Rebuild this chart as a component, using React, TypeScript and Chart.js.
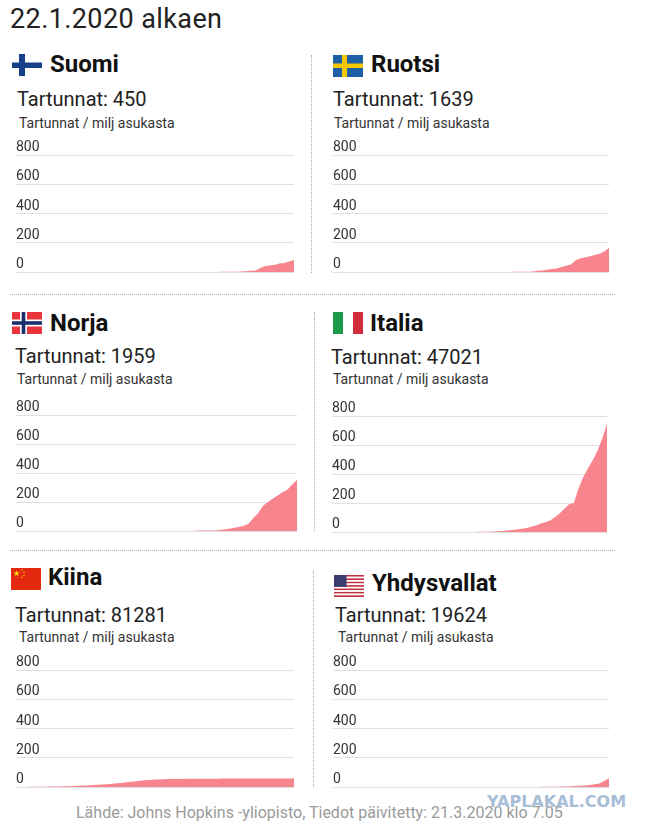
import { useEffect, useRef } from "react";
import Chart from "chart.js/auto";

// päivät 22.1. – 20.3.2020
const days = [
  "22.1", "23.1", "24.1", "25.1", "26.1", "27.1", "28.1", "29.1", "30.1", "31.1",
  "1.2", "2.2", "3.2", "4.2", "5.2", "6.2", "7.2", "8.2", "9.2", "10.2",
  "11.2", "12.2", "13.2", "14.2", "15.2", "16.2", "17.2", "18.2", "19.2", "20.2",
  "21.2", "22.2", "23.2", "24.2", "25.2", "26.2", "27.2", "28.2", "29.2",
  "1.3", "2.3", "3.3", "4.3", "5.3", "6.3", "7.3", "8.3", "9.3", "10.3",
  "11.3", "12.3", "13.3", "14.3", "15.3", "16.3", "17.3", "18.3", "19.3", "20.3",
];

const yTicks = [0, 200, 400, 600, 800];

const countries = ["Suomi", "Ruotsi", "Norja", "Italia", "Kiina", "Yhdysvallat"];
const totals = [450, 1639, 1959, 47021, 81281, 19624];

// tartunnat / milj asukasta
const suomi = [
  0, 0, 0, 0, 0, 0, 0, 0.2, 0.2, 0.2,
  0.2, 0.2, 0.2, 0.2, 0.2, 0.2, 0.2, 0.2, 0.2, 0.2,
  0.2, 0.2, 0.2, 0.2, 0.2, 0.2, 0.2, 0.2, 0.2, 0.2,
  0.2, 0.2, 0.2, 0.2, 0.2, 0.4, 0.4, 0.4, 0.4,
  0.5, 0.6, 0.7, 0.8, 1, 1.2, 1.5, 2, 3, 5,
  8, 10, 28, 41, 44, 50, 58, 61, 72, 82,
];
const ruotsi = [
  0, 0, 0, 0, 0, 0, 0, 0, 0, 0.1,
  0.1, 0.1, 0.1, 0.1, 0.1, 0.1, 0.1, 0.1, 0.1, 0.1,
  0.1, 0.1, 0.1, 0.1, 0.1, 0.1, 0.1, 0.1, 0.1, 0.1,
  0.1, 0.1, 0.1, 0.1, 0.1, 0.2, 0.7, 0.7, 1.2,
  1.4, 1.5, 2.1, 3.4, 9.2, 9.9, 15.7, 19.8, 24.2, 34.7,
  42, 52, 79.6, 94, 100, 108, 116, 125, 141, 166,
];
const norja = [
  0, 0, 0, 0, 0, 0, 0, 0, 0, 0,
  0, 0, 0, 0, 0, 0, 0, 0, 0, 0,
  0, 0, 0, 0, 0, 0, 0, 0, 0, 0,
  0, 0, 0, 0, 0, 0.2, 0.2, 1.1, 2.8,
  3.5, 3.8, 4, 7, 11, 15, 22, 28, 36, 50,
  90, 125, 175, 200, 222, 245, 268, 285, 320, 352,
];
const italia = [
  0, 0, 0, 0, 0, 0, 0, 0, 0, 0.1,
  0.1, 0.1, 0.1, 0.1, 0.1, 0.1, 0.1, 0.1, 0.1, 0.1,
  0.1, 0.1, 0.1, 0.1, 0.1, 0.1, 0.1, 0.1, 0.1, 0.1,
  0.3, 1, 2, 2.5, 3, 5, 7, 10, 13,
  17, 22, 28, 36, 45, 58, 68, 80, 102, 128,
  160, 192, 200, 300, 380, 440, 495, 560, 645, 745,
];
const kiina = [
  0.4, 0.5, 0.7, 1, 1.4, 1.8, 2.2, 2.7, 3.2, 3.8,
  4.5, 5.5, 6.5, 8, 9.5, 11, 13, 15, 17, 19.5,
  22, 25, 28, 32, 36, 40, 43, 46, 48.5, 50.5,
  52, 53, 54, 54.5, 55, 55.3, 55.6, 56, 56.3,
  56.7, 57, 57.1, 57.2, 57.3, 57.4, 57.5, 57.5, 57.6, 57.6,
  57.6, 57.7, 57.7, 57.7, 57.8, 57.8, 57.8, 57.9, 57.9, 58,
];
const yhdysvallat = [
  0, 0, 0, 0, 0, 0, 0, 0, 0, 0,
  0, 0, 0, 0, 0, 0, 0, 0, 0, 0,
  0, 0, 0, 0, 0, 0, 0, 0, 0, 0,
  0.1, 0.1, 0.1, 0.2, 0.2, 0.2, 0.2, 0.2, 0.2,
  0.2, 0.3, 0.4, 0.5, 0.7, 1, 1.3, 1.6, 1.8, 2.9,
  3.9, 5.1, 6.6, 8.3, 10.7, 14.1, 19.6, 23.7, 41.7, 59.8,
];
const series = [suomi, ruotsi, norja, italia, kiina, yhdysvallat];

const FILL = "#f8848e";
const GRID = "#e0e0e0";
const FONT = "Roboto, 'Noto Sans', sans-serif";

// sijainnit kuvassa (px)
const layout = [
  { flag: "fi", fx: 12, fy: 54, nx: 50, ny: 63.5, tx: 17, ty: 99, sx: 19, sy: 122.5, left: 16, right: 294, top: 155, base: 272 },
  { flag: "se", fx: 333, fy: 55, nx: 371, ny: 64, tx: 333, ty: 99, sx: 334, sy: 122.5, left: 333, right: 609, top: 155, base: 272 },
  { flag: "no", fx: 12, fy: 312, nx: 50, ny: 323, tx: 15, ty: 356, sx: 17, sy: 379, left: 16, right: 297, top: 415, base: 531 },
  { flag: "it", fx: 333, fy: 312, nx: 370, ny: 323, tx: 331, ty: 357, sx: 333, sy: 379, left: 332, right: 607, top: 416, base: 532 },
  { flag: "cn", fx: 11, fy: 568, nx: 48, ny: 577, tx: 15, ty: 615, sx: 19, sy: 637, left: 16, right: 294, top: 670, base: 787 },
  { flag: "us", fx: 334, fy: 575, nx: 372, ny: 583, tx: 335, ty: 615, sx: 338, sy: 637, left: 333, right: 609, top: 670, base: 787 },
];

const PAD_TOP = 20;

function text(x: number, cy: number, size: number, lh: number, extra: object = {}) {
  return {
    position: "absolute" as const,
    left: x,
    top: cy - lh / 2,
    fontSize: size,
    lineHeight: lh + "px",
    whiteSpace: "nowrap" as const,
    fontFamily: FONT,
    ...extra,
  };
}

function starPoints(cx: number, cy: number, r: number) {
  const pts: string[] = [];
  for (let i = 0; i < 10; i++) {
    const rr = i % 2 === 0 ? r : r * 0.38;
    const a = -Math.PI / 2 + (i * Math.PI) / 5;
    pts.push((cx + rr * Math.cos(a)).toFixed(2) + "," + (cy + rr * Math.sin(a)).toFixed(2));
  }
  return pts.join(" ");
}

function Flag({ code }: { code: string }) {
  const w = 30;
  const h = 22;
  let body = null;
  if (code === "fi") {
    body = (
      <>
        <rect width={w} height={h} fill="#fff" />
        <rect x={7} y={0} width={6} height={h} fill="#17408b" />
        <rect x={0} y={8.5} width={w} height={5.5} fill="#17408b" />
      </>
    );
  } else if (code === "se") {
    body = (
      <>
        <rect width={w} height={h} fill="#1f5fa6" />
        <rect x={9} y={0} width={5} height={h} fill="#f6c700" />
        <rect x={0} y={8.5} width={w} height={4.5} fill="#f6c700" />
      </>
    );
  } else if (code === "no") {
    body = (
      <>
        <rect width={w} height={h} fill="#e9343b" />
        <rect x={8} y={0} width={7} height={h} fill="#fff" />
        <rect x={0} y={7.5} width={w} height={7} fill="#fff" />
        <rect x={9.7} y={0} width={3.6} height={h} fill="#1d2f6b" />
        <rect x={0} y={9.2} width={w} height={3.6} fill="#1d2f6b" />
      </>
    );
  } else if (code === "it") {
    body = (
      <>
        <rect x={0} width={10} height={h} fill="#1b9a4b" />
        <rect x={10} width={10} height={h} fill="#fff" />
        <rect x={20} width={10} height={h} fill="#cf2e3a" />
      </>
    );
  } else if (code === "cn") {
    body = (
      <>
        <rect width={w} height={h} fill="#e3290f" />
        <polygon points={starPoints(5.5, 5.5, 3.3)} fill="#ffde00" />
        <polygon points={starPoints(11, 2.2, 1.1)} fill="#ffde00" />
        <polygon points={starPoints(13, 4.4, 1.1)} fill="#ffde00" />
        <polygon points={starPoints(13, 7.4, 1.1)} fill="#ffde00" />
        <polygon points={starPoints(11, 9.4, 1.1)} fill="#ffde00" />
      </>
    );
  } else if (code === "us") {
    const stripes = [];
    for (let i = 0; i < 13; i++) {
      stripes.push(
        <rect key={i} x={0} y={(i * h) / 13} width={w} height={h / 13 + 0.05} fill={i % 2 === 0 ? "#c0313f" : "#fff"} />
      );
    }
    body = (
      <>
        {stripes}
        <rect x={0} y={0} width={12.5} height={(7 * h) / 13} fill="#3b3b6d" />
      </>
    );
  }
  return (
    <svg width={w} height={h} viewBox={`0 0 ${w} ${h}`} style={{ display: "block" }}>
      {body}
    </svg>
  );
}

function AreaChart({ values, left, right, top, base }: { values: number[]; left: number; right: number; top: number; base: number }) {
  const canvasRef = useRef<HTMLCanvasElement>(null);

  useEffect(() => {
    if (!canvasRef.current) return;

    const chart = new Chart(canvasRef.current, {
      type: "line",
      data: {
        labels: days,
        datasets: [
          {
            data: values,
            fill: "origin",
            backgroundColor: FILL,
            borderColor: "rgba(0,0,0,0)",
            borderWidth: 0,
            pointRadius: 0,
            tension: 0,
          },
        ],
      },
      options: {
        animation: false,
        responsive: true,
        maintainAspectRatio: false,
        events: [],
        layout: { padding: { top: PAD_TOP, bottom: 1, left: 0, right: 0 } },
        plugins: {
          legend: { display: false },
          tooltip: { enabled: false },
        },
        scales: {
          x: { display: false },
          y: {
            min: yTicks[0],
            max: yTicks[yTicks.length - 1],
            afterBuildTicks: (scale: any) => {
              scale.ticks = yTicks.map((v) => ({ value: v }));
            },
            afterFit: (scale: any) => {
              scale.paddingTop = 0;
              scale.paddingBottom = 0;
            },
            ticks: {
              mirror: true,
              padding: 0,
              labelOffset: -7.5,
              color: "#333",
              font: { family: FONT, size: 14 },
            },
            grid: { color: GRID, drawTicks: false },
            border: { display: false },
          },
        },
      },
    });

    return () => chart.destroy();
  }, [values]);

  return (
    <div
      style={{
        position: "absolute",
        left,
        top: top - PAD_TOP,
        width: right - left,
        height: base - top + PAD_TOP + 1,
      }}
    >
      <canvas ref={canvasRef} />
    </div>
  );
}

export default function App() {
  useEffect(() => {
    document.body.style.margin = "0";
  }, []);

  return (
    <div style={{ position: "relative", width: 649, height: 832, background: "#fff", color: "#222", overflow: "hidden" }}>
      <div style={text(10, 19, 27, 32, { color: "#222", letterSpacing: 0.4 })}>22.1.2020 alkaen</div>

      {layout.map((p, i) => (
        <div key={countries[i]}>
          <div style={{ position: "absolute", left: p.fx, top: p.fy }}>
            <Flag code={p.flag} />
          </div>
          <div style={text(p.nx, p.ny, 24, 28, { fontWeight: 700, color: "#111" })}>{countries[i]}</div>
          <div style={text(p.tx, p.ty, 20, 24, { color: "#222" })}>Tartunnat: {totals[i]}</div>
          <div style={text(p.sx, p.sy, 14, 18, { color: "#333" })}>Tartunnat / milj asukasta</div>
          <AreaChart values={series[i]} left={p.left} right={p.right} top={p.top} base={p.base} />
        </div>
      ))}

      <div style={{ position: "absolute", left: 311, top: 55, height: 218, borderLeft: "1px dotted #aaa" }} />
      <div style={{ position: "absolute", left: 314, top: 312, height: 220, borderLeft: "1px dotted #aaa" }} />
      <div style={{ position: "absolute", left: 313, top: 571, height: 216, borderLeft: "1px dotted #aaa" }} />
      <div style={{ position: "absolute", left: 10, top: 294, width: 605, borderTop: "1px dotted #aaa" }} />
      <div style={{ position: "absolute", left: 10, top: 550, width: 605, borderTop: "1px dotted #aaa" }} />

      <div style={text(76, 813, 16, 18, { color: "#9a9a9a" })}>
        Lähde: Johns Hopkins -yliopisto, Tiedot päivitetty: 21.3.2020 klo 7.05
      </div>
      <div
        style={text(487, 802, 16, 18, {
          color: "#a8bdd6",
          fontWeight: 700,
          fontFamily: "'DejaVu Sans', sans-serif",
        })}
      >
        YAPLAKAL.COM
      </div>
    </div>
  );
}
